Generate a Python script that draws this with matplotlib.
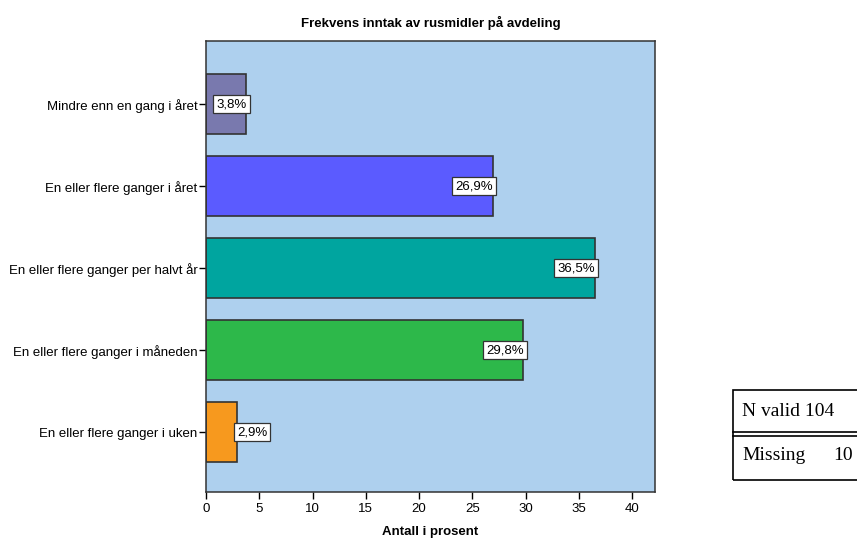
import numpy as np
import matplotlib.pyplot as plt
from matplotlib.patches import Rectangle
from matplotlib.lines import Line2D

# ===================== Data =====================
kategorier = ["Mindre enn en gang i året",
              "En eller flere ganger i året",
              "En eller flere ganger per halvt år",
              "En eller flere ganger i måneden",
              "En eller flere ganger i uken"]
prosent = [3.8, 26.9, 36.5, 29.8, 2.9]
farger = ["#7979AE", "#5B5BFF", "#00A59F", "#2DB84A", "#F7991E"]
n_valid = 104
n_missing = 10

plt.rcParams['font.family'] = ['Liberation Sans', 'DejaVu Sans']

fig = plt.figure(figsize=(8.57, 5.40), dpi=100)
W, H = 857, 540
ax = fig.add_axes([206 / W, 1 - 492 / H, (655 - 206) / W, (492 - 41) / H])
ax.set_facecolor("#AED0EE")

y = np.arange(len(kategorier))
ax.barh(y, prosent, height=0.74, color=farger, edgecolor="#333333", linewidth=1.2, zorder=2)

# verdietiketter: inne i stolpen, eller utenfor hvis stolpen er for kort
for yi, v in zip(y, prosent):
    txt = f"{v:.1f}%".replace(".", ",")
    ha = "left" if v < 3.5 else "right"
    ax.text(v, yi, txt, ha=ha, va="center", fontsize=9.5, zorder=3,
            bbox=dict(boxstyle="square,pad=0.25", fc="white", ec="#333333", lw=0.9))

ax.set_yticks(y)
ax.set_yticklabels(kategorier, fontsize=9.5)
ax.set_ylim(len(kategorier) - 1 + 0.73, -0.77)
ax.set_xlim(0, 42.15)
ax.set_xticks(np.arange(0, 41, 5))
ax.tick_params(axis="x", labelsize=9.5, length=5, width=1, direction="out", pad=3)
ax.tick_params(axis="y", length=5, width=1, direction="out", pad=1)
for s in ax.spines.values():
    s.set_linewidth(1.1)
    s.set_color("#333333")

ax.set_xlabel("Antall i prosent", fontsize=9.5, fontweight="bold", labelpad=8)
ax.set_title("Frekvens inntak av rusmidler på avdeling", fontsize=9.5, fontweight="bold", pad=10)

# Tabell med N valid / Missing
x0, x1 = 733 / W, 1.01
y_top, y_mid1, y_mid2, y_bot = 1 - 390 / H, 1 - 432 / H, 1 - 436 / H, 1 - 480 / H
fig.patches.append(Rectangle((x0, y_bot), x1 - x0, y_top - y_bot, transform=fig.transFigure,
                             fill=False, ec="black", lw=1.2))
for yy in (y_mid1, y_mid2):
    fig.lines.append(Line2D([x0, x1], [yy, yy], transform=fig.transFigure, color="black", lw=1.2))
serif = ["Liberation Serif", "DejaVu Serif"]
fig.text(742 / W, 1 - 411 / H, f"N valid {n_valid}", family=serif, fontsize=14, va="center")
fig.text(742 / W, 1 - 456 / H, "Missing", family=serif, fontsize=14, va="center")
fig.text(833 / W, 1 - 456 / H, f"{n_missing}", family=serif, fontsize=14, va="center")

fig.savefig("out.png", dpi=100)
